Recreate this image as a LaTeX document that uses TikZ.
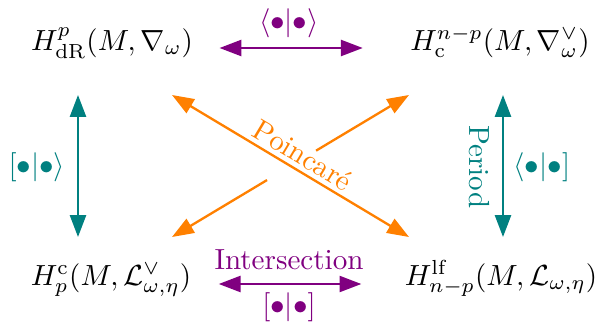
\documentclass[tikz,border=0pt]{standalone}
\usetikzlibrary{arrows.meta,calc}
\begin{document}
\begin{tikzpicture}[x=0.3436pt,y=-0.3436pt,
  obj/.style={inner sep=0pt,anchor=base},
  arr/.style={line width=0.8pt,{Triangle[length=7.5pt,width=5.5pt]}-{Triangle[length=7.5pt,width=5.5pt]}},
  arrend/.style={line width=0.8pt,-{Triangle[length=7.5pt,width=5.5pt]}},
  lab/.style={inner sep=0pt}]
\useasboundingbox (0,0) rectangle (600,324);
% objects
\node[obj] (tl) at (112,50) {$H^p_{\mathrm{dR}}(M,\nabla_\omega)$};
\node[obj] (tr) at (500,50) {$H^{n-p}_{\mathrm{c}}(M,\nabla^\vee_\omega)$};
\node[obj] (bl) at (111,285) {$H_p^{\mathrm{c}}(M,\mathcal{L}^\vee_{\omega,\eta})$};
\node[obj] (br) at (501,285) {$H^{\mathrm{lf}}_{n-p}(M,\mathcal{L}_{\omega,\eta})$};
% end points relative to nodes
\coordinate (t1) at ($(tl.base east)+(26,-2)$);
\coordinate (t2) at ($(tr.base west)+(-47,-2)$);
\coordinate (u1) at ($(bl.base east)+(27,-1)$);
\coordinate (u2) at ($(br.base west)+(-43,-1)$);
\coordinate (l1) at ($(tl.base)+(-34,45)$);
\coordinate (l2) at ($(bl.base)+(-33,-48)$);
\coordinate (r1) at ($(tr.base)+(3,45)$);
\coordinate (r2) at ($(br.base)+(2,-48)$);
\coordinate (a1) at ($(tl.base)+(60,45)$);
\coordinate (a2) at ($(br.base)+(-92,-48)$);
\coordinate (b1) at ($(bl.base)+(61,-48)$);
\coordinate (b2) at ($(tr.base)+(-91,45)$);
\coordinate (g1) at ($(b1)!0.401!(b2)$);
\coordinate (g2) at ($(b1)!0.608!(b2)$);
% horizontal arrows
\draw[arr,violet] (t1) -- (t2);
\draw[arr,violet] (u1) -- (u2);
\node[lab,violet] (ltop) at (289,23) {$\langle\bullet|\bullet\rangle$};
\node[lab,violet,anchor=base] (lint) at (289,269) {Intersection};
\node[lab,violet] (lbot) at (289,307) {$[\bullet|\bullet]$};
% vertical arrows
\draw[arr,teal] (l1) -- (l2);
\draw[arr,teal] (r1) -- (r2);
\node[lab,teal] (lleft) at (37,167) {$[\bullet|\bullet\rangle$};
\node[lab,teal,rotate=-90] (lper) at (479,167) {Period};
\node[lab,teal] (lright) at (542,167) {$\langle\bullet|\bullet]$};
% diagonal arrows
\draw[arr,orange] (a1) -- (a2);
\draw[arrend,orange,{Triangle[length=7.5pt,width=5.5pt]}-] (b1) -- (g1);
\draw[arrend,orange] (g2) -- (b2);
\node[lab,orange,rotate=-30.9] (lpoin) at (303,155) {Poincar\'e};
\end{tikzpicture}
\end{document}
